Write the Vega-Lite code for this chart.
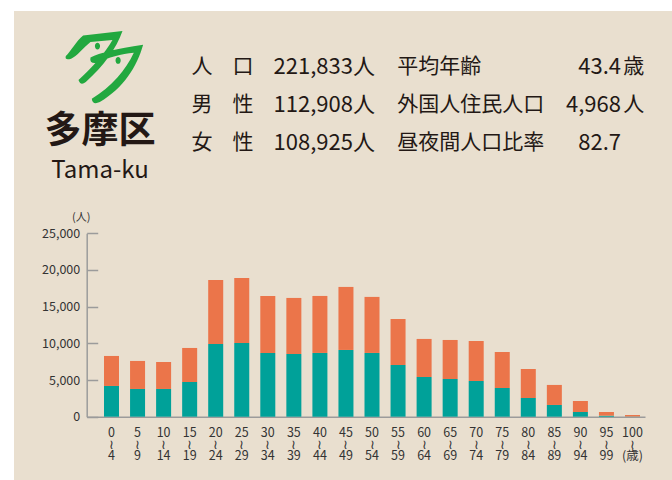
{
  "$schema": "https://vega.github.io/schema/vega-lite/v6.json",
  "background": "white",
  "padding": {"left": 14, "top": 11, "right": 0, "bottom": 0},
  "config": {
    "view": {"fill": "#E9DFCF", "stroke": null},
    "font": "Noto Sans CJK JP",
    "concat": {"spacing": 0}
  },
  "datasets": {
    "pop": [
      {"age": "0-4", "sex": "男性", "value": 4190}, {"age": "0-4", "sex": "女性", "value": 4090},
      {"age": "5-9", "sex": "男性", "value": 3780}, {"age": "5-9", "sex": "女性", "value": 3820},
      {"age": "10-14", "sex": "男性", "value": 3780}, {"age": "10-14", "sex": "女性", "value": 3680},
      {"age": "15-19", "sex": "男性", "value": 4730}, {"age": "15-19", "sex": "女性", "value": 4640},
      {"age": "20-24", "sex": "男性", "value": 9910}, {"age": "20-24", "sex": "女性", "value": 8730},
      {"age": "25-29", "sex": "男性", "value": 10050}, {"age": "25-29", "sex": "女性", "value": 8860},
      {"age": "30-34", "sex": "男性", "value": 8690}, {"age": "30-34", "sex": "女性", "value": 7770},
      {"age": "35-39", "sex": "男性", "value": 8550}, {"age": "35-39", "sex": "女性", "value": 7640},
      {"age": "40-44", "sex": "男性", "value": 8690}, {"age": "40-44", "sex": "女性", "value": 7770},
      {"age": "45-49", "sex": "男性", "value": 9100}, {"age": "45-49", "sex": "女性", "value": 8590},
      {"age": "50-54", "sex": "男性", "value": 8690}, {"age": "50-54", "sex": "女性", "value": 7640},
      {"age": "55-59", "sex": "男性", "value": 7050}, {"age": "55-59", "sex": "女性", "value": 6270},
      {"age": "60-64", "sex": "男性", "value": 5410}, {"age": "60-64", "sex": "女性", "value": 5190},
      {"age": "65-69", "sex": "男性", "value": 5140}, {"age": "65-69", "sex": "女性", "value": 5320},
      {"age": "70-74", "sex": "男性", "value": 4870}, {"age": "70-74", "sex": "女性", "value": 5450},
      {"age": "75-79", "sex": "男性", "value": 3910}, {"age": "75-79", "sex": "女性", "value": 4910},
      {"age": "80-84", "sex": "男性", "value": 2550}, {"age": "80-84", "sex": "女性", "value": 3950},
      {"age": "85-89", "sex": "男性", "value": 1600}, {"age": "85-89", "sex": "女性", "value": 2730},
      {"age": "90-94", "sex": "男性", "value": 640}, {"age": "90-94", "sex": "女性", "value": 1500},
      {"age": "95-99", "sex": "男性", "value": 140}, {"age": "95-99", "sex": "女性", "value": 500},
      {"age": "100-", "sex": "男性", "value": 30}, {"age": "100-", "sex": "女性", "value": 200}
    ],
    "head": [
      {"row": "1", "a": "人", "b": "口", "n": "221,833人", "l": "平均年齢", "v": "43.4", "u": "歳"},
      {"row": "2", "a": "男", "b": "性", "n": "112,908人", "l": "外国人住民人口", "v": "4,968", "u": "人"},
      {"row": "3", "a": "女", "b": "性", "n": "108,925人", "l": "昼夜間人口比率", "v": "82.7", "u": ""}
    ],
    "logo": [
      {"item": "logo", "text": ""},
      {"item": "name", "text": "多摩区"},
      {"item": "roman", "text": "Tama-ku"}
    ]
  },
  "spacing": 0,
  "vconcat": [
    {
      "spacing": 0,
      "bounds": "flush",
      "hconcat": [
        {
          "data": {"name": "logo"},
          "width": 172,
          "height": 186,
          "encoding": {
            "y": {"field": "item", "type": "nominal", "axis": null,
              "scale": {"type": "point", "domain": ["d0", "d1", "d2", "d3", "logo", "d5", "d6", "d7", "d8", "name", "d10", "d11", "roman", "d13"], "padding": 0.654, "align": 0.218}}
          },
          "layer": [
            {
              "transform": [{"filter": "datum.item == 'logo'"}],
              "mark": {"type": "point", "filled": true, "opacity": 1, "color": "#22A83F", "size": 6400, "strokeWidth": 0,
                "shape": "M -0.855 -0.267 C -0.738 -0.375 -0.588 -0.65 -0.422 -0.783 L 0.562 -0.892 C 0.412 -0.458 0.078 0 -0.355 0.383 Q -0.488 0.483 -0.538 0.333 C -0.172 0 0.12 -0.333 0.312 -0.667 L -0.238 -0.617 C -0.405 -0.483 -0.588 -0.25 -0.722 -0.2 Q -0.888 -0.15 -0.855 -0.267 Z M -0.238 -0.233 C -0.005 -0.35 0.412 -0.45 1.078 -0.55 C 0.928 0 0.578 0.542 -0.005 0.883 Q -0.188 0.967 -0.205 0.8 C 0.287 0.5 0.645 0.083 0.845 -0.35 C 0.537 -0.317 0.203 -0.233 -0.072 -0.1 Q -0.272 -0.067 -0.238 -0.233 Z M -0.128 -0.517 A 0.065 0.085 0 1 0 0.002 -0.517 A 0.065 0.085 0 1 0 -0.128 -0.517 Z M 0.388 -0.158 A 0.065 0.085 0 1 0 0.518 -0.158 A 0.065 0.085 0 1 0 0.388 -0.158 Z"}
            },
            {
              "transform": [{"filter": "datum.item == 'name'"}],
              "mark": {"type": "text", "fontSize": 37, "fontWeight": "bold", "color": "#231815", "baseline": "middle"},
              "encoding": {"text": {"field": "text"}}
            },
            {
              "transform": [{"filter": "datum.item == 'roman'"}],
              "mark": {"type": "text", "fontSize": 24, "color": "#231815", "baseline": "middle"},
              "encoding": {"text": {"field": "text"}}
            }
          ]
        },
        {
          "data": {"name": "head"}, "width": 32, "height": 186,
          "mark": {"type": "text", "fontSize": 21, "color": "#231815", "baseline": "middle", "align": "center"},
          "encoding": {
            "y": {"field": "row", "type": "nominal", "axis": null, "scale": {"type": "point", "domain": ["0", "1", "2", "3", "4"], "padding": 0.447, "align": 0.515}},
            "text": {"field": "a"}
          }
        },
        {
          "data": {"name": "head"}, "width": 50, "height": 186,
          "mark": {"type": "text", "fontSize": 21, "color": "#231815", "baseline": "middle", "align": "center"},
          "encoding": {
            "y": {"field": "row", "type": "nominal", "axis": null, "scale": {"type": "point", "domain": ["0", "1", "2", "3", "4"], "padding": 0.447, "align": 0.515}},
            "text": {"field": "b"}
          }
        },
        {
          "data": {"name": "head"}, "width": 107, "height": 186,
          "mark": {"type": "text", "fontSize": 22, "color": "#231815", "baseline": "middle", "align": "right", "x": "width"},
          "encoding": {
            "y": {"field": "row", "type": "nominal", "axis": null, "scale": {"type": "point", "domain": ["0", "1", "2", "3", "4"], "padding": 0.447, "align": 0.515}},
            "text": {"field": "n"}
          }
        },
        {
          "data": {"name": "head"}, "width": 246, "height": 186,
          "encoding": {
            "y": {"field": "row", "type": "nominal", "axis": null, "scale": {"type": "point", "domain": ["0", "1", "2", "3", "4"], "padding": 0.447, "align": 0.515}}
          },
          "layer": [
            {
              "mark": {"type": "text", "fontSize": 21, "color": "#231815", "baseline": "middle", "align": "left"},
              "encoding": {
                "x": {"datum": "label", "type": "nominal", "axis": null, "scale": {"type": "point", "domain": ["s0", "label", "s2", "s3", "s4", "s5", "s6", "s7", "s8", "s9", "s10", "value"], "padding": 0}},
                "text": {"field": "l"}
              }
            },
            {
              "mark": {"type": "text", "fontSize": 22, "color": "#231815", "baseline": "middle", "align": "right"},
              "encoding": {
                "x": {"datum": "value", "type": "nominal", "axis": null, "scale": {"type": "point", "domain": ["s0", "label", "s2", "s3", "s4", "s5", "s6", "s7", "s8", "s9", "s10", "value"], "padding": 0}},
                "text": {"field": "v"}
              }
            }
          ]
        },
        {
          "data": {"name": "head"}, "width": 51, "height": 186,
          "mark": {"type": "text", "fontSize": 21, "color": "#231815", "baseline": "middle", "align": "center"},
          "encoding": {
            "x": {"datum": "unit", "type": "nominal", "axis": null, "scale": {"type": "point", "domain": ["unit", "s1", "s2"], "padding": 1}},
            "y": {"field": "row", "type": "nominal", "axis": null, "scale": {"type": "point", "domain": ["0", "1", "2", "3", "4"], "padding": 0.447, "align": 0.515}},
            "text": {"field": "u"}
          }
        }
      ]
    },
    {
      "data": {"name": "pop"},
      "width": 658,
      "height": 283,
      "mark": {"type": "bar"},
      "encoding": {
        "x": {
          "field": "age", "type": "ordinal", "sort": null,
          "scale": {"range": [72.7, 631], "paddingInner": 0.424, "paddingOuter": 0.428, "align": 0.776},
          "axis": {
            "orient": "bottom", "offset": -63.3, "title": null, "ticks": false,
            "domainColor": "#9B9B9B", "domainWidth": 1.5,
            "labelAngle": 0, "labelPadding": 10, "labelFontSize": 12.5, "labelLineHeight": 11.3,
            "labelColor": "#333333", "labelBaseline": "top",
            "labelExpr": "datum.value == '100-' ? ['100', '≀', ' ', '(歳)'] : [split(datum.value, '-')[0], '≀', split(datum.value, '-')[1]]"
          }
        },
        "y": {
          "field": "value", "type": "quantitative", "stack": "zero",
          "scale": {"domain": [0, 25000], "range": [219.7, 36.3], "nice": false},
          "axis": {
            "orient": "left", "offset": -72.7, "values": [0, 5000, 10000, 15000, 20000, 25000],
            "grid": false, "domainColor": "#9B9B9B", "domainWidth": 1.5,
            "tickColor": "#9B9B9B", "tickWidth": 1.5, "tickSize": -11, "labelPadding": 18,
            "labelFontSize": 12.5, "labelColor": "#333333",
            "title": "(人)", "titleAngle": 0, "titleAlign": "center", "titleBaseline": "middle",
            "titleX": -6, "titleY": 20, "titleFontSize": 11, "titleFontWeight": "normal", "titleColor": "#333333"
          }
        },
        "color": {
          "field": "sex", "type": "nominal",
          "scale": {"domain": ["男性", "女性"], "range": ["#00A199", "#EB754A"]},
          "legend": null
        },
        "order": {"field": "sex", "sort": "descending"}
      }
    }
  ]
}
